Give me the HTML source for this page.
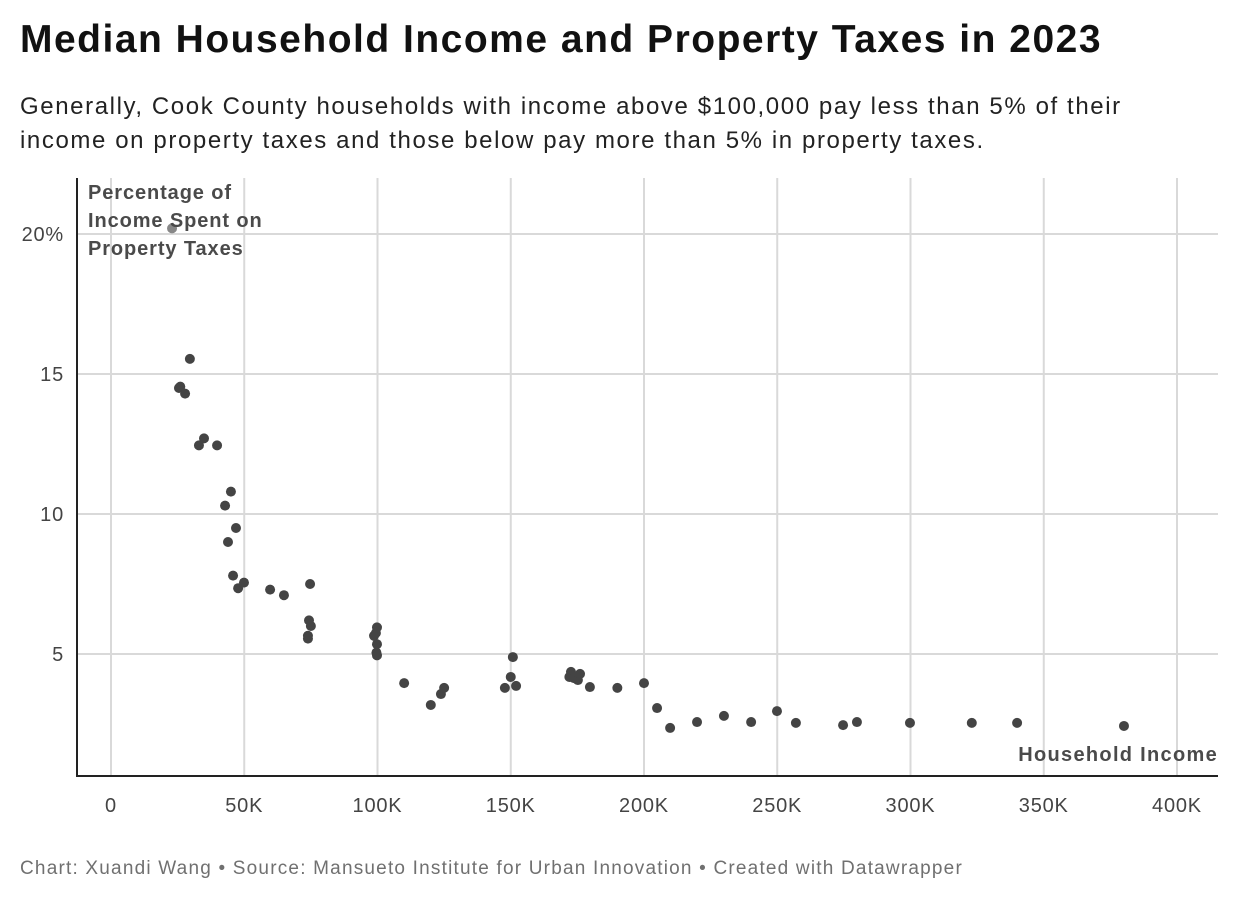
<!DOCTYPE html>
<html><head><meta charset="utf-8"><style>
body{margin:0;background:#fff;width:1240px;height:904px;overflow:hidden;font-family:"Liberation Sans",Arial,sans-serif}
h1{position:absolute;left:20px;top:18px;margin:0;font-size:39px;font-weight:bold;color:#111;letter-spacing:1.5px;white-space:nowrap}
.sub{position:absolute;left:20px;top:90px;margin:0;font-size:24px;line-height:34px;color:#222;letter-spacing:1.6px;white-space:nowrap}
.foot{position:absolute;left:20px;top:858px;font-size:19px;color:#707070;letter-spacing:1.2px;white-space:nowrap}
</style></head><body>
<h1>Median Household Income and Property Taxes in 2023</h1>
<p class="sub">Generally, Cook County households with income above $100,000 pay less than 5% of their<br>income on property taxes and those below pay more than 5% in property taxes.</p>
<svg id="chart" width="1240" height="904" style="position:absolute;left:0;top:0"></svg>
<div class="foot">Chart: Xuandi Wang • Source: Mansueto Institute for Urban Innovation • Created with Datawrapper</div>
<script>
const xTicks=[0,50,100,150,200,250,300,350,400];
const xTickLabels=["0","50K","100K","150K","200K","250K","300K","350K","400K"];
const yTicks=[5,10,15,20];
const yTickLabels=["5","10","15","20%"];
const incomes=[22.9,29.6,25.5,26,27.8,34.9,33,39.8,45,42.8,46.9,43.9,45.8,47.7,49.9,59.7,64.9,74.7,74.3,75,73.9,73.9,99.8,99.4,98.7,99.8,99.6,99.8,110,120,123.8,125,147.8,150,150.8,152,172.6,172,173.7,175.2,176,179.7,190,200,204.9,209.8,219.9,230,240.2,249.9,257,274.7,279.9,299.8,323,340,380.1];
const taxPct=[20.2,15.54,14.5,14.55,14.3,12.7,12.45,12.45,10.8,10.3,9.5,9.0,7.8,7.35,7.55,7.3,7.1,7.5,6.2,6.0,5.65,5.55,5.95,5.75,5.65,5.35,5.05,4.95,3.96,3.18,3.57,3.79,3.79,4.18,4.89,3.86,4.36,4.18,4.14,4.07,4.29,3.82,3.79,3.96,3.07,2.36,2.57,2.79,2.57,2.96,2.54,2.46,2.57,2.54,2.54,2.54,2.43];
const svg=document.getElementById('chart');
const NS='http://www.w3.org/2000/svg';
const X=v=>111+v*2.665, Y=v=>794-v*28;
const L=77,R=1218,T=178,B=776;
function mk(t,a){const e=document.createElementNS(NS,t);for(const k in a)e.setAttribute(k,a[k]);svg.appendChild(e);return e;}
xTicks.forEach((v,i)=>{
 const g=mk('line',{x1:X(v),x2:X(v),y1:T,y2:B,stroke:'#d9d9d9','stroke-width':2});
 
 
 const t=mk('text',{x:X(v),y:812,'text-anchor':'middle','font-size':20,fill:'#444','letter-spacing':0.8});
 t.textContent=xTickLabels[i];
 
 
});
yTicks.forEach((v,i)=>{
 const g=mk('line',{x1:L,x2:R,y1:Y(v),y2:Y(v),stroke:'#d9d9d9','stroke-width':2});
 
 
 const t=mk('text',{x:64,y:Y(v)+7,'text-anchor':'end','font-size':20,fill:'#444','letter-spacing':0.8});
 t.textContent=yTickLabels[i];
 
 
});
const ax1=mk('line',{x1:L,x2:L,y1:T,y2:B+1,stroke:'#222','stroke-width':2});


const ax2=mk('line',{x1:L,x2:R,y1:B,y2:B,stroke:'#222','stroke-width':2});


incomes.forEach((v,i)=>{
 const c=mk('circle',{cx:X(v),cy:Y(taxPct[i]),r:5,fill:i===0?'#888':'#444'});
 
 
});
const yt=mk('text',{x:88,y:199,'font-size':20,'font-weight':'bold',fill:'#4a4a4a','letter-spacing':0.9});


["Percentage of","Income Spent on","Property Taxes"].forEach((s,i)=>{const ts=document.createElementNS(NS,'tspan');ts.setAttribute('x',88);ts.setAttribute('dy',i?28:0);ts.textContent=s;yt.appendChild(ts);});
const xt=mk('text',{x:1218,y:761,'text-anchor':'end','font-size':20,'font-weight':'bold',fill:'#4a4a4a','letter-spacing':1.3});
xt.textContent='Household Income';


</script>
</body></html>
